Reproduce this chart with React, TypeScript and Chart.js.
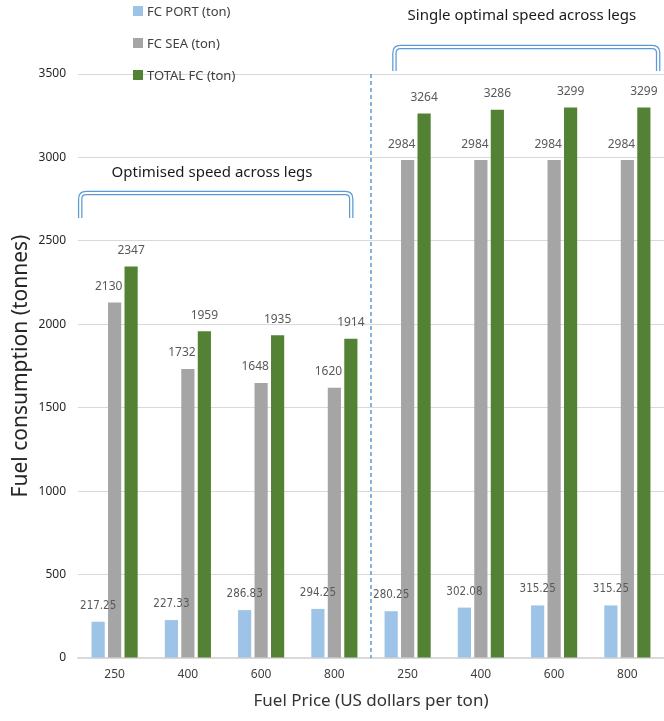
import React, { useEffect, useRef } from "react";
import { Chart, registerables } from "chart.js";

Chart.register(...registerables);

const categories = ["250", "400", "600", "800", "250", "400", "600", "800"];
const seriesNames = ["FC PORT (ton)", "FC SEA (ton)", "TOTAL FC (ton)"];
const fcPort = [217.25, 227.33, 286.83, 294.25, 280.25, 302.08, 315.25, 315.25];
const fcSea = [2130, 1732, 1648, 1620, 2984, 2984, 2984, 2984];
const totalFc = [2347, 1959, 1935, 1914, 3264, 3286, 3299, 3299];
const yTickValues = [0, 500, 1000, 1500, 2000, 2500, 3000, 3500];
const seriesColors = ["#9DC3E6", "#A5A5A5", "#548235"];

const groupNotes = [
  { text: "Optimised speed across legs", from: -0.47, to: 3.23, top: 2787, bottom: 2637, textX: 1.33, textY: 2907 },
  { text: "Single optimal speed across legs", from: 3.82, to: 7.42, top: 3662, bottom: 3518, textX: 5.56, textY: 3848 },
];

const FONT = "'Noto Sans', Lato, sans-serif";
const NARROW = "'Liberation Sans Narrow', 'DejaVu Sans Condensed', sans-serif";

function drawLabels(chart: any, which: number[]) {
  const ctx = chart.ctx;
  ctx.save();
  ctx.textAlign = "center";
  ctx.textBaseline = "middle";
  ctx.fillStyle = "#595959";
  which.forEach((di) => {
    const ds = chart.data.datasets[di];
    const meta = chart.getDatasetMeta(di);
    meta.data.forEach((bar: any, i: number) => {
      const v = ds.data[i];
      let txt = String(v);
      let dx = 0;
      if (di === 0) {
        txt = v.toFixed(2);
        ctx.font = "11.5px " + NARROW;
      } else {
        ctx.font = "12px " + FONT;
      }
      if (di === 1) dx = -6;
      ctx.fillText(txt, bar.x + dx, bar.y - 16);
    });
  });
  ctx.restore();
}

const overlay = {
  id: "overlay",
  beforeDatasetsDraw(chart: any) {
    drawLabels(chart, [1]);
  },
  afterDatasetsDraw(chart: any) {
    drawLabels(chart, [0, 2]);
  },
  afterDraw(chart: any) {
    const ctx = chart.ctx;
    const xs = chart.scales.x;
    const ys = chart.scales.y;
    const area = chart.chartArea;
    ctx.save();
    const sepX = (xs.getPixelForValue(3) + xs.getPixelForValue(4)) / 2;
    ctx.strokeStyle = "#5B9BD5";
    ctx.lineWidth = 1.5;
    ctx.setLineDash([4, 3]);
    ctx.beginPath();
    ctx.moveTo(sepX, area.top);
    ctx.lineTo(sepX, area.bottom);
    ctx.stroke();
    ctx.setLineDash([]);

    groupNotes.forEach((g) => {
      const x0 = xs.getPixelForValue(g.from);
      const x1 = xs.getPixelForValue(g.to);
      const yt = ys.getPixelForValue(g.top);
      const yb = ys.getPixelForValue(g.bottom);
      const r = 6;
      const path = () => {
        ctx.beginPath();
        ctx.moveTo(x0, yb);
        ctx.lineTo(x0, yt + r);
        ctx.quadraticCurveTo(x0, yt, x0 + r, yt);
        ctx.lineTo(x1 - r, yt);
        ctx.quadraticCurveTo(x1, yt, x1, yt + r);
        ctx.lineTo(x1, yb);
      };
      ctx.lineCap = "butt";
      path();
      ctx.strokeStyle = "#5B9BD5";
      ctx.lineWidth = 4.5;
      ctx.stroke();
      path();
      ctx.strokeStyle = "#FFFFFF";
      ctx.lineWidth = 2;
      ctx.stroke();

      ctx.fillStyle = "#1a1a1a";
      ctx.font = "15px " + FONT;
      ctx.textAlign = "center";
      ctx.textBaseline = "middle";
      ctx.fillText(g.text, xs.getPixelForValue(g.textX), ys.getPixelForValue(g.textY));
    });

    const legendYs = [11, 43, 75];
    ctx.font = "13px " + FONT;
    ctx.textAlign = "left";
    ctx.textBaseline = "middle";
    seriesNames.forEach((name, i) => {
      ctx.fillStyle = seriesColors[i];
      ctx.fillRect(133, legendYs[i] - 5, 10, 10);
      ctx.fillStyle = "#404040";
      ctx.fillText(name, 147, legendYs[i] + 1);
    });
    ctx.restore();
  },
};

export default function App() {
  const ref = useRef<HTMLCanvasElement>(null);
  useEffect(() => {
    if (!ref.current) return;
    const chart = new Chart(ref.current, {
      type: "bar",
      data: {
        labels: categories,
        datasets: [
          { label: seriesNames[0], data: fcPort, backgroundColor: seriesColors[0] },
          { label: seriesNames[1], data: fcSea, backgroundColor: seriesColors[1] },
          { label: seriesNames[2], data: totalFc, backgroundColor: seriesColors[2] },
        ],
      },
      options: {
        responsive: false,
        animation: false,
        devicePixelRatio: 1,
        layout: { padding: { top: 74, right: 0, left: 0, bottom: 0 } },
        datasets: { bar: { categoryPercentage: 0.675, barPercentage: 0.8 } },
        plugins: { legend: { display: false }, tooltip: { enabled: false } },
        scales: {
          x: {
            grid: { display: false, drawTicks: false },
            border: { display: true, color: "#D9D9D9", width: 1.5 },
            ticks: { color: "#404040", font: { family: FONT, size: 12 }, padding: 9 },
            title: {
              display: true,
              text: "Fuel Price (US dollars per ton)",
              color: "#333333",
              font: { family: FONT, size: 17 },
              padding: { top: 4, bottom: 10 },
            },
            afterFit: (s: any) => { s.height = 63; },
          },
          y: {
            min: 0,
            max: 3500,
            afterBuildTicks: (s: any) => { s.ticks = yTickValues.map((v) => ({ value: v })); },
            grid: { color: "#D9D9D9", lineWidth: 1, drawTicks: false },
            border: { display: false },
            ticks: {
              color: "#262626",
              font: { family: FONT, size: 12 },
              padding: 12,
              callback: (v: any) => String(v),
            },
            title: {
              display: true,
              text: "Fuel consumption (tonnes)",
              color: "#262626",
              font: { family: FONT, size: 21 },
              padding: { top: 8, bottom: 4 },
            },
            afterFit: (s: any) => { s.width = 78; },
          },
        },
      },
      plugins: [overlay],
    });
    return () => chart.destroy();
  }, []);
  return (
    <div style={{ position: "absolute", left: 0, top: 0, width: 664, height: 721 }}>
      <canvas ref={ref} width={664} height={721} />
    </div>
  );
}
